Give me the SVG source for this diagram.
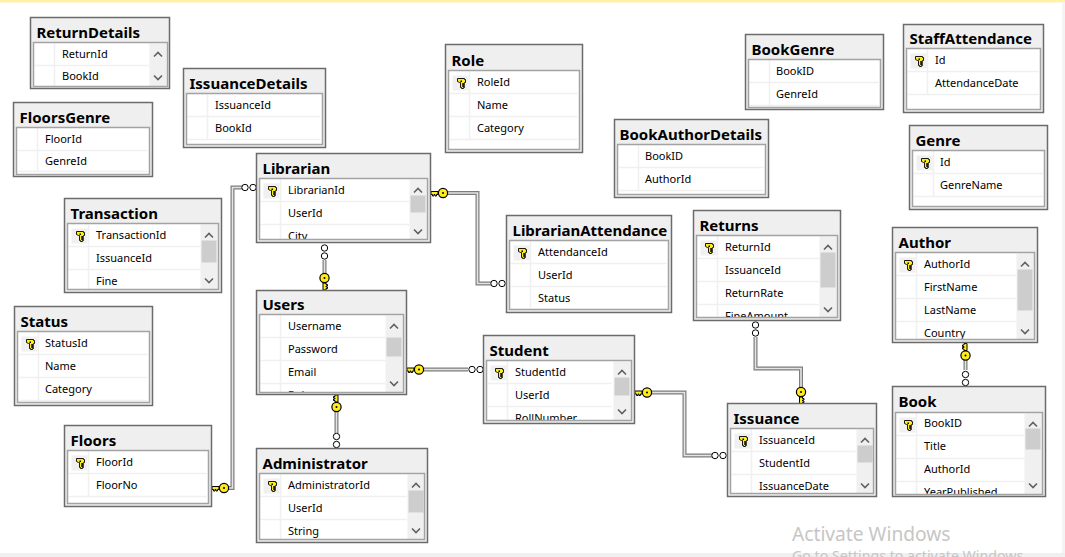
<svg xmlns="http://www.w3.org/2000/svg" width="1065" height="557" viewBox="0 0 1065 557">
<style>
text{font-family:"Noto Sans","Open Sans","Liberation Sans",sans-serif;fill:#000}
.o{fill:#efefef;stroke:#6b6b6b;stroke-width:1.5}
.i{fill:none;stroke:#a3a3a3;stroke-width:1.5}
.b{fill:#fff}
.g{fill:none;stroke:#f0f0f0;stroke-width:1.5}
.t{font-size:15px;font-weight:700}
.r{font-size:11px;transform:translate(-.5px,-1px)}
.s{fill:#f0f0f0}
.th{fill:#cdcdcd}
.kc{fill:#f0f0f0}
.ch{fill:none;stroke:#606060;stroke-width:1.6}
.l1{fill:none;stroke:#7d7d7d;stroke-width:4}
.l2{fill:none;stroke:#e4e4e4;stroke-width:1.6}
.inf{fill:#fff;stroke:#000;stroke-width:1}
.wm{font-family:"Noto Sans","Open Sans",sans-serif;fill:#c6c6c6}
</style>
<defs>
<g id="pk"><rect class="kc" x="7" y="30" width="16" height="15"/><path d="M12 33h7v1h1v3h-1v1h-2v1h2v1h-2v1h2v1h-1v1h-2v-1h-1v-5h-1l-2-1v-3z" fill="#ffec1a" stroke="#000" stroke-width=".9"/><rect x="15" y="35" width="1.5" height="1.5" fill="#000"/></g>
<path id="up" class="ch" d="M-4 3l4-4 4 4"/>
<path id="dn" class="ch" d="M-4-2l4 4 4-4"/>
<g id="key"><path d="M-12-1.5H-5V1.5H-6.5V3H-8V1.5H-9V3H-10.5V1.5H-12z" fill="#ffec1a" stroke="#000" stroke-width="1"/><circle r="4.6" fill="#ffec1a" stroke="#000" stroke-width="1.2"/><circle r="1" fill="#000"/></g>
<g id="inf2h"><circle class="inf" cx="-4" r="3.2"/><circle class="inf" cx="4" r="3.2"/></g>
<g id="inf2v"><circle class="inf" cy="-4" r="3.2"/><circle class="inf" cy="4" r="3.2"/></g>
</defs>
<rect width="1065" height="557" fill="#fff"/>
<rect width="1065" height="2.5" fill="#fff2a6"/>
<rect x="1062" y="2" width="3" height="555" fill="#f4f4f4"/>
<rect y="553" width="1065" height="4" fill="#f0f0f0"/>

<g id="connectors">
<path class="l1" d="M228 488H232.500V187.500H243"/><path class="l2" d="M228 488H232.500V187.500H243"/>
<path class="l1" d="M447 193H477.500V283.500H491"/><path class="l2" d="M447 193H477.500V283.500H491"/>
<path class="l1" d="M324.500 260V275"/><path class="l2" d="M324.500 260V275"/>
<path class="l1" d="M424 369.500H468"/><path class="l2" d="M424 369.500H468"/>
<path class="l1" d="M651 392.500H684.500V455.500H712"/><path class="l2" d="M651 392.500H684.500V455.500H712"/>
<path class="l1" d="M336.500 411V433"/><path class="l2" d="M336.500 411V433"/>
<path class="l1" d="M755.500 337V368.500H801V388"/><path class="l2" d="M755.500 337V368.500H801V388"/>
<path class="l1" d="M965.500 360V370"/><path class="l2" d="M965.500 360V370"/>
<use href="#key" transform="translate(224,488)"/><use href="#inf2h" transform="translate(249,187.500)"/>
<use href="#key" transform="translate(443,193)"/><use href="#inf2h" transform="translate(498,283.500)"/>
<use href="#inf2v" transform="translate(324.500,252)"/><use href="#key" transform="translate(324.500,278) rotate(-90)"/>
<use href="#key" transform="translate(419,369.500)"/><use href="#inf2h" transform="translate(476,369.500)"/>
<use href="#key" transform="translate(647,392.500)"/><use href="#inf2h" transform="translate(719,455.500)"/>
<use href="#key" transform="translate(336.500,407) rotate(90)"/><use href="#inf2v" transform="translate(336.500,440.500)"/>
<use href="#inf2v" transform="translate(755.500,329)"/><use href="#key" transform="translate(801,392) rotate(-90)"/>
<use href="#key" transform="translate(965.500,355.500) rotate(90)"/><use href="#inf2v" transform="translate(965.500,378.500)"/>
</g>

<g id="ReturnDetails" transform="translate(30.500,17.500)"><rect class="o" width="139" height="71"/><text class="t" x="6" y="20">ReturnDetails</text><rect class="b" x="3" y="25" width="134" height="44"/><path class="g" d="M4 48H119M24 26V69"/><rect class="s" x="119" y="26" width="17" height="43"/><use href="#up" x="127.500" y="36"/><use href="#dn" x="127.500" y="60"/><text class="r" x="32" y="41">ReturnId</text><text class="r" x="32" y="63">BookId</text><rect class="i" x="3" y="25" width="134" height="44"/></g>

<g id="FloorsGenre" transform="translate(13.500,102.500)"><rect class="o" width="139" height="74"/><text class="t" x="6" y="20">FloorsGenre</text><rect class="b" x="3" y="25" width="133" height="47"/><path class="g" d="M4 48H134M4 69H134M24 26V69"/><text class="r" x="32" y="41">FloorId</text><text class="r" x="32" y="63">GenreId</text><rect class="i" x="3" y="25" width="133" height="47"/></g>

<g id="IssuanceDetails" transform="translate(183.500,68.500)"><rect class="o" width="142" height="79"/><text class="t" x="6" y="20">IssuanceDetails</text><rect class="b" x="3" y="25" width="136" height="51"/><path class="g" d="M4 48H137M4 71H137M24 26V71"/><text class="r" x="32" y="41">IssuanceId</text><text class="r" x="32" y="64">BookId</text><rect class="i" x="3" y="25" width="136" height="51"/></g>

<g id="Role" transform="translate(445.500,44.500)"><rect class="o" width="137" height="108"/><text class="t" x="6" y="21">Role</text><rect class="b" x="3" y="26" width="131" height="79"/><path class="g" d="M4 49H132M4 72H132M4 95H132M24 27V95"/><use href="#pk" y="1"/><text class="r" x="32" y="42">RoleId</text><text class="r" x="32" y="65">Name</text><text class="r" x="32" y="88">Category</text><rect class="i" x="3" y="26" width="131" height="79"/></g>

<g id="BookGenre" transform="translate(745.500,34.500)"><rect class="o" width="138" height="75"/><text class="t" x="6" y="20">BookGenre</text><rect class="b" x="3" y="25" width="132" height="48"/><path class="g" d="M4 48H133M4 71H133M24 26V71"/><text class="r" x="31" y="41">BookID</text><text class="r" x="31" y="64">GenreId</text><rect class="i" x="3" y="25" width="132" height="48"/></g>

<g id="StaffAttendance" transform="translate(903.500,24.500)"><rect class="o" width="140" height="88"/><text class="t" x="6" y="19">StaffAttendance</text><rect class="b" x="3" y="24" width="134" height="61"/><path class="g" d="M4 47H135M4 70H135M24 25V70"/><use href="#pk" y="-1"/><text class="r" x="32" y="40">Id</text><text class="r" x="32" y="63">AttendanceDate</text><rect class="i" x="3" y="24" width="134" height="61"/></g>

<g id="BookAuthorDetails" transform="translate(614.500,119.500)"><rect class="o" width="154" height="78"/><text class="t" x="5" y="20">BookAuthorDetails</text><rect class="b" x="3" y="25" width="148" height="50"/><path class="g" d="M4 48H149M4 71H149M24 26V71"/><text class="r" x="31" y="41">BookID</text><text class="r" x="31" y="64">AuthorId</text><rect class="i" x="3" y="25" width="148" height="50"/></g>

<g id="Genre" transform="translate(909.500,125.500)"><rect class="o" width="138" height="84"/><text class="t" x="6" y="20">Genre</text><rect class="b" x="3" y="25" width="132" height="56"/><path class="g" d="M4 48H133M4 71H133M24 26V71"/><use href="#pk"/><text class="r" x="31" y="41">Id</text><text class="r" x="31" y="64">GenreName</text><rect class="i" x="3" y="25" width="132" height="56"/></g>

<g id="Transaction" transform="translate(64.500,198.500)"><rect class="o" width="157" height="94"/><text class="t" x="6" y="20">Transaction</text><rect class="b" x="3" y="25" width="151" height="66"/><path class="g" d="M4 48H136M4 71H136M24 26V91"/><use href="#pk"/><rect class="s" x="136" y="26" width="17" height="65"/><rect class="th" x="137" y="42" width="15" height="22"/><use href="#up" x="144.500" y="36"/><use href="#dn" x="144.500" y="82"/><text class="r" x="32" y="41">TransactionId</text><text class="r" x="32" y="64">IssuanceId</text><text class="r" x="32" y="87">Fine</text><rect class="i" x="3" y="25" width="151" height="66"/></g>

<g id="Librarian" transform="translate(256.500,153.500)"><rect class="o" width="174" height="89"/><text class="t" x="6" y="20">Librarian</text><rect class="b" x="3" y="25" width="168" height="61"/><path class="g" d="M4 48H153M4 71H153M24 26V86"/><use href="#pk"/><rect class="s" x="153" y="26" width="17" height="60"/><rect class="th" x="154" y="42" width="15" height="17"/><use href="#up" x="161.500" y="36"/><use href="#dn" x="161.500" y="78"/><text class="r" x="32" y="41">LibrarianId</text><text class="r" x="32" y="64">UserId</text><svg x="3" y="25" width="168" height="61"><text class="r" x="29" y="62">City</text></svg><rect class="i" x="3" y="25" width="168" height="61"/></g>

<g id="LibrarianAttendance" transform="translate(506.500,215.500)"><rect class="o" width="165" height="97"/><text class="t" x="6" y="20">LibrarianAttendance</text><rect class="b" x="3" y="25" width="159" height="69"/><path class="g" d="M4 48H160M4 71H160M4 94H160M24 26V92"/><use href="#pk"/><text class="r" x="32" y="41">AttendanceId</text><text class="r" x="32" y="64">UserId</text><text class="r" x="32" y="87">Status</text><rect class="i" x="3" y="25" width="159" height="69"/></g>

<g id="Returns" transform="translate(693.500,210.500)"><rect class="o" width="147" height="110"/><text class="t" x="6" y="20">Returns</text><rect class="b" x="3" y="25" width="141" height="82"/><path class="g" d="M4 48H126M4 71H126M4 94H126M24 26V107"/><use href="#pk"/><rect class="s" x="126" y="26" width="17" height="81"/><rect class="th" x="127" y="42" width="15" height="35"/><use href="#up" x="134.500" y="36"/><use href="#dn" x="134.500" y="99"/><text class="r" x="32" y="41">ReturnId</text><text class="r" x="32" y="64">IssuanceId</text><text class="r" x="32" y="87">ReturnRate</text><svg x="3" y="25" width="141" height="82"><text class="r" x="29" y="85">FineAmount</text></svg><rect class="i" x="3" y="25" width="141" height="82"/></g>

<g id="Author" transform="translate(892.500,227.500)"><rect class="o" width="145" height="115"/><text class="t" x="6" y="20">Author</text><rect class="b" x="3" y="25" width="139" height="87"/><path class="g" d="M4 48H124M4 71H124M4 94H124M24 26V112"/><use href="#pk"/><rect class="s" x="124" y="26" width="17" height="86"/><rect class="th" x="125" y="42" width="15" height="41"/><use href="#up" x="132.500" y="36"/><use href="#dn" x="132.500" y="104"/><text class="r" x="32" y="41">AuthorId</text><text class="r" x="32" y="64">FirstName</text><text class="r" x="32" y="87">LastName</text><text class="r" x="32" y="110">Country</text><rect class="i" x="3" y="25" width="139" height="87"/></g>

<g id="Users" transform="translate(256.500,290.500)"><rect class="o" width="150" height="104"/><text class="t" x="6" y="19">Users</text><rect class="b" x="3" y="24" width="144" height="78"/><path class="g" d="M4 47H129M4 70H129M4 93H129M24 25V102"/><rect class="s" x="129" y="25" width="17" height="77"/><rect class="th" x="130" y="47" width="15" height="19"/><use href="#up" x="137.500" y="35"/><use href="#dn" x="137.500" y="93"/><text class="r" x="32" y="40">Username</text><text class="r" x="32" y="63">Password</text><text class="r" x="32" y="86">Email</text><svg x="3" y="24" width="126" height="78"><text class="r" x="29" y="85">Role</text></svg><rect class="i" x="3" y="24" width="144" height="78"/></g>

<g id="Status" transform="translate(14.500,306.500)"><rect class="o" width="138" height="99"/><text class="t" x="6" y="20">Status</text><rect class="b" x="3" y="25" width="132" height="71"/><path class="g" d="M4 48H133M4 71H133M4 94H133M24 26V94"/><use href="#pk"/><text class="r" x="31" y="41">StatusId</text><text class="r" x="31" y="64">Name</text><text class="r" x="31" y="87">Category</text><rect class="i" x="3" y="25" width="132" height="71"/></g>

<g id="Student" transform="translate(483.500,335.500)"><rect class="o" width="151" height="88"/><text class="t" x="6" y="20">Student</text><rect class="b" x="3" y="25" width="145" height="60"/><path class="g" d="M4 48H128M4 71H128M24 26V85"/><use href="#pk"/><rect class="s" x="130" y="26" width="17" height="59"/><rect class="th" x="131" y="42" width="15" height="18"/><use href="#up" x="138.500" y="36"/><use href="#dn" x="138.500" y="76"/><text class="r" x="32" y="41">StudentId</text><text class="r" x="32" y="64">UserId</text><svg x="3" y="25" width="145" height="60"><text class="r" x="29" y="62">RollNumber</text></svg><rect class="i" x="3" y="25" width="145" height="60"/></g>

<g id="Issuance" transform="translate(727.500,403.500)"><rect class="o" width="149" height="93"/><text class="t" x="6" y="20">Issuance</text><rect class="b" x="3" y="25" width="143" height="65"/><path class="g" d="M4 48H128M4 71H128M24 26V90"/><use href="#pk"/><rect class="s" x="129" y="26" width="16" height="64"/><rect class="th" x="130" y="42" width="15" height="17"/><use href="#up" x="137.500" y="36"/><use href="#dn" x="137.500" y="82"/><text class="r" x="32" y="41">IssuanceId</text><text class="r" x="32" y="64">StudentId</text><text class="r" x="32" y="87">IssuanceDate</text><rect class="i" x="3" y="25" width="143" height="65"/></g>

<g id="Book" transform="translate(892.500,386.500)"><rect class="o" width="153" height="110"/><text class="t" x="6" y="20">Book</text><rect class="b" x="3" y="26" width="147" height="82"/><path class="g" d="M4 49H132M4 72H132M4 95H132M24 27V108"/><use href="#pk" y="1"/><rect class="s" x="132" y="27" width="17" height="81"/><rect class="th" x="133" y="42" width="15" height="21"/><use href="#up" x="140.500" y="37"/><use href="#dn" x="140.500" y="99"/><text class="r" x="32" y="41">BookID</text><text class="r" x="32" y="64">Title</text><text class="r" x="32" y="87">AuthorId</text><svg x="3" y="26" width="147" height="82"><text class="r" x="29" y="84">YearPublished</text></svg><rect class="i" x="3" y="26" width="147" height="82"/></g>

<g id="Floors" transform="translate(64.500,425.500)"><rect class="o" width="147" height="81"/><text class="t" x="6" y="20">Floors</text><rect class="b" x="3" y="25" width="141" height="53"/><path class="g" d="M4 48H142M4 71H142M24 26V71"/><use href="#pk"/><text class="r" x="32" y="41">FloorId</text><text class="r" x="32" y="64">FloorNo</text><rect class="i" x="3" y="25" width="141" height="53"/></g>

<g id="Administrator" transform="translate(256.500,448.500)"><rect class="o" width="171" height="94"/><text class="t" x="6" y="20">Administrator</text><rect class="b" x="3" y="25" width="165" height="66"/><path class="g" d="M4 48H150M4 71H150M24 26V91"/><use href="#pk"/><rect class="s" x="151" y="26" width="16" height="65"/><rect class="th" x="152" y="42" width="15" height="22"/><use href="#up" x="159.500" y="36"/><use href="#dn" x="159.500" y="82"/><text class="r" x="32" y="41">AdministratorId</text><text class="r" x="32" y="64">UserId</text><text class="r" x="32" y="87">String</text><rect class="i" x="3" y="25" width="165" height="66"/></g>

<text class="wm" x="792" y="541" font-size="19.200">Activate Windows</text>
<text class="wm" x="792" y="561" font-size="14.200">Go to Settings to activate Windows.</text>
</svg>
